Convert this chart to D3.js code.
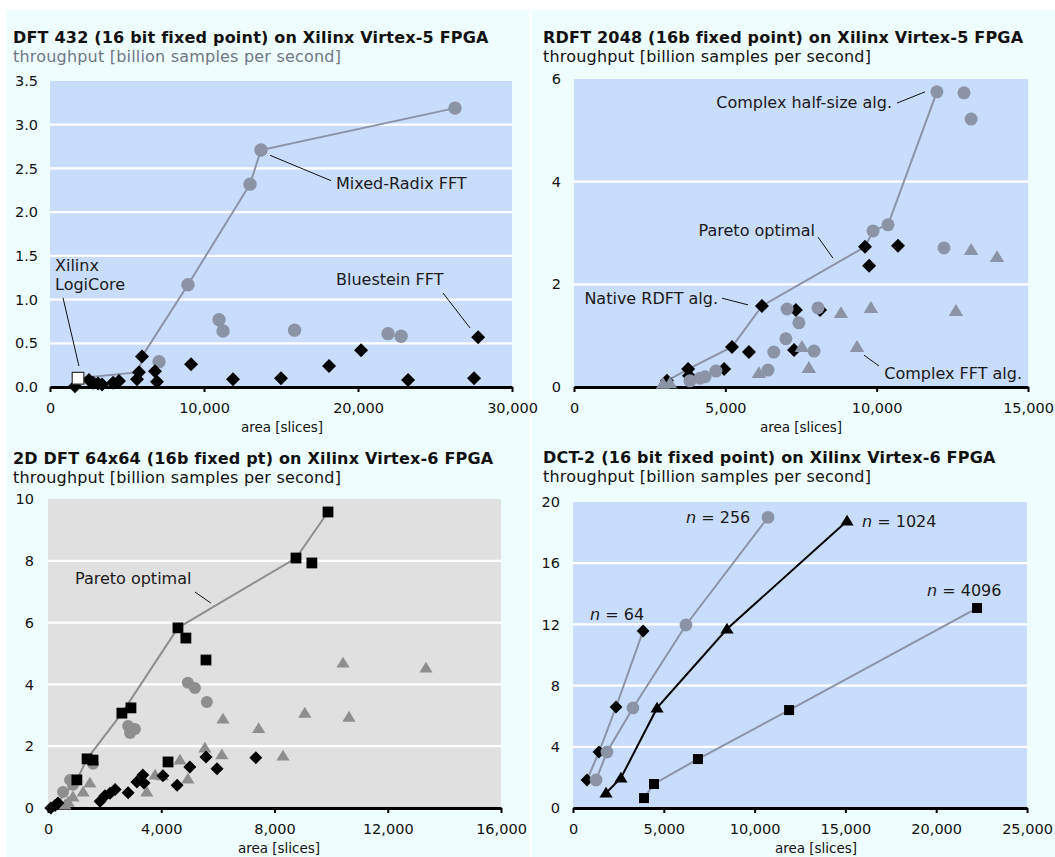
<!DOCTYPE html>
<html>
<head>
<meta charset="utf-8">
<script src="https://cdn.jsdelivr.net/npm/d3@7"></script>
<style>
  body { margin: 0; background: #ffffff; }
  svg { display: block; font-family: "DejaVu Sans", Verdana, sans-serif; }
</style>
</head>
<body>
<svg id="chart" width="1055" height="857"></svg>
<script>
// ---------- DFT 432 on Virtex-5: [area (slices), throughput (GS/s)] ----------
const dftMixedRadix = [[26300,3.19],[13700,2.71],[12990,2.32],[8960,1.17],[10975,0.77],[11235,0.64],
  [15880,0.65],[21950,0.61],[22800,0.58],[7080,0.29]];
const dftBluestein = [[1620,0.01],[2530,0.08],[2800,0.05],[3120,0.04],[3380,0.03],[4100,0.05],[4480,0.07],
  [5650,0.09],[5780,0.17],[5975,0.35],[6820,0.18],[6950,0.06],[9160,0.26],[11885,0.09],[15000,0.10],
  [18120,0.24],[20200,0.42],[23250,0.08],[27535,0.10],[27800,0.57]];
const dftLogiCore = [[1820,0.10]];
const dftPareto = [[1820,0.10],[5780,0.17],[5975,0.35],[8960,1.17],[12990,2.32],[13700,2.71],[26300,3.19]];
const dftXTicks = [0,10000,20000,30000];
const dftYTicks = [0,0.5,1.0,1.5,2.0,2.5,3.0,3.5];

// ---------- RDFT 2048 on Virtex-5 ----------
const rdftHalfSize = [[11990,5.75],[12885,5.73],[13120,5.22],[10375,3.16],[9880,3.04],[12225,2.71],
  [8060,1.54],[7040,1.52],[7430,1.25],[7000,0.94],[6600,0.68],[7930,0.70],[6410,0.33],[4690,0.31],
  [4330,0.20],[4160,0.17],[3830,0.12]];
const rdftNative = [[6210,1.58],[7330,1.50],[8130,1.50],[5220,0.78],[5780,0.68],[7270,0.72],[3770,0.35],
  [4960,0.35],[3800,0.22],[3070,0.12],[9615,2.73],[10705,2.75],[9750,2.36]];
const rdftComplexFFT = [[13120,2.67],[13975,2.53],[9810,1.54],[12620,1.48],[8820,1.44],[7530,0.78],
  [9350,0.78],[7760,0.37],[6110,0.27],[2940,0.06],[3170,0.07]];
const rdftPareto = [[3070,0.12],[3770,0.35],[5220,0.78],[6210,1.58],[9615,2.73],[9880,3.04],[10375,3.16],[11990,5.75]];
const rdftXTicks = [0,5000,10000,15000];
const rdftYTicks = [0,2,4,6];

// ---------- 2D DFT 64x64 on Virtex-6 ----------
const dft2dSquares = [[4590,5.83],[4870,5.50],[5580,4.79],[2610,3.07],[2930,3.24],[1380,1.59],[1590,1.55],
  [1020,0.91],[4240,1.49],[9890,9.58],[8760,8.09],[9320,7.93]];
const dft2dCircles = [[4940,4.05],[5190,3.88],[5610,3.43],[2830,2.65],[2900,2.43],[3070,2.56],[1590,1.43],
  [780,0.91],[530,0.52],[880,0.75]];
const dft2dTriangles = [[10420,4.69],[13350,4.53],[9070,3.07],[10630,2.94],[8300,1.68],[7440,2.57],[6180,2.88],
  [5540,1.94],[6140,1.72],[4660,1.55],[3780,1.07],[4030,1.04],[4940,0.94],[3490,0.52],[1480,0.81],
  [1240,0.52],[880,0.36],[710,0.19],[600,0.10]];
const dft2dDiamonds = [[5010,1.33],[5970,1.27],[5580,1.65],[7340,1.63],[4560,0.74],[3350,1.07],[3140,0.84],
  [3390,0.81],[4060,1.04],[2830,0.49],[2370,0.60],[2190,0.48],[2010,0.40],[1840,0.22],[350,0.16],
  [250,0.08],[100,0.0]];
const dft2dPareto = [[250,0.08],[1020,0.91],[1380,1.59],[2610,3.07],[4590,5.83],[8760,8.09],[9890,9.58]];
const dft2dXTicks = [0,4000,8000,12000,16000];
const dft2dYTicks = [0,2,4,6,8,10];

// ---------- DCT-2 on Virtex-6, one series per transform size ----------
const dctN64 = [[770,1.83],[1430,3.66],[2370,6.60],[3860,11.57]];
const dctN256 = [[1270,1.83],[1870,3.66],[3300,6.54],[6220,11.96],[10740,19.0]];
const dctN1024 = [[1820,0.98],[2640,1.96],[4630,6.54],[8480,11.70],[15090,18.76]];
const dctN4096 = [[3910,0.65],[4460,1.57],[6880,3.20],[11900,6.40],[22250,13.07]];
const dctXTicks = [0,5000,10000,15000,20000,25000];
const dctYTicks = [0,4,8,12,16,20];

// ---------- styling ----------
const PAGE_BG = "#eefefe";
const BLUE_BG = "#c8dcfb";
const GRAY_BG = "#e0e0e0";
const SLATE = "#8a94a6";
const GRAY = "#8e8e8e";
const NOTE_SIZE = 16;

const svg = d3.select("#chart");

// page background: four cyan tiles with thin white margins
svg.append("rect").attr("x",0).attr("y",0).attr("width",1055).attr("height",857).attr("fill","#ffffff");
[[6,10,523,424],[532,10,523,424],[6,434,523,423],[532,434,523,423]].forEach(([x0,y0,w,h]) =>
  svg.append("rect").attr("x",x0).attr("y",y0).attr("width",w).attr("height",h).attr("fill",PAGE_BG));

// marker path generators (centered at 0,0)
const shapes = {
  circle: s => `M${s},0A${s},${s} 0 1,1 ${-s},0A${s},${s} 0 1,1 ${s},0Z`,
  diamond: s => `M0,${-s}L${s},0L0,${s}L${-s},0Z`,
  square: s => `M${-s},${-s}H${s}V${s}H${-s}Z`,
  triangle: s => `M0,${-s*1.05}L${s*1.1},${s*0.75}L${-s*1.1},${s*0.75}Z`
};

function drawPanel(cfg) {
  const g = svg.append("g");
  const b = cfg.box;
  const x = d3.scaleLinear().domain(cfg.xDomain).range([b.left, b.right]);
  const y = d3.scaleLinear().domain(cfg.yDomain).range([b.bottom, b.top]);

  // titles
  g.append("text").attr("x", cfg.titlePos[0]).attr("y", cfg.titlePos[1]).attr("dy","0.35em")
    .attr("font-size", 16).attr("letter-spacing", 0.2).attr("font-weight","bold").attr("fill","#111").text(cfg.title);
  g.append("text").attr("x", cfg.titlePos[0]).attr("y", cfg.titlePos[1] + 19).attr("dy","0.35em")
    .attr("font-size", 16).attr("letter-spacing", 0.2).attr("fill", cfg.subtitleColor)
    .text("throughput [billion samples per second]");

  // plot background and horizontal gridlines
  g.append("rect").attr("x", b.left).attr("y", b.top)
    .attr("width", b.right - b.left).attr("height", b.bottom - b.top).attr("fill", cfg.plotBg);
  g.selectAll(".grid").data(cfg.yTicks.filter(t => t > cfg.yDomain[0] && t < cfg.yDomain[1]))
    .join("line").attr("x1", b.left).attr("x2", b.right)
    .attr("y1", d => y(d)).attr("y2", d => y(d)).attr("stroke","#ffffff").attr("stroke-width",2.2);

  // y tick labels
  const ya = g.append("g").attr("transform", `translate(${b.left},0)`)
    .call(d3.axisLeft(y).tickValues(cfg.yTicks).tickSize(0).tickPadding(cfg.yPad).tickFormat(cfg.yFormat));
  ya.select(".domain").remove();
  ya.selectAll("text").attr("font-size", 14.5).attr("font-family","DejaVu Sans, Verdana, sans-serif").attr("fill","#111");

  // connecting lines
  cfg.lines.forEach(L => {
    g.append("path").datum(L.data)
      .attr("d", d3.line().x(d => x(d[0])).y(d => y(d[1])))
      .attr("fill","none").attr("stroke", L.color).attr("stroke-width", L.width || 2);
  });

  // leader lines for annotations
  cfg.notes.forEach(n => {
    if (n.leader) {
      g.append("line").attr("x1", x(n.leader[0][0])).attr("y1", y(n.leader[0][1]))
        .attr("x2", x(n.leader[1][0])).attr("y2", y(n.leader[1][1]))
        .attr("stroke","#111").attr("stroke-width",1);
    }
  });

  // x axis on the zero line
  const xa = g.append("g").attr("transform", `translate(0,${y(0)})`)
    .call(d3.axisBottom(x).tickValues(cfg.xTicks).tickSize(5).tickSizeOuter(0).tickPadding(11)
      .tickFormat(d3.format(",")));
  xa.select(".domain").attr("stroke","#000").attr("stroke-width",3);
  xa.selectAll(".tick line").attr("stroke","#000").attr("stroke-width",2);
  xa.selectAll("text").attr("font-size", 14.5).attr("font-family","DejaVu Sans, Verdana, sans-serif").attr("fill","#111");

  g.append("text").attr("x", cfg.xLabelX).attr("y", y(0) + 40).attr("dy","0.35em")
    .attr("text-anchor","middle").attr("font-size", 13.5).attr("fill","#111").text("area [slices]");

  // markers
  cfg.series.forEach(S => {
    g.append("g").selectAll("path").data(S.data).join("path")
      .attr("transform", d => `translate(${x(d[0])},${y(d[1])})`)
      .attr("d", shapes[S.shape](S.size))
      .attr("fill", S.fill).attr("stroke", S.stroke || "none").attr("stroke-width", S.strokeWidth || 0);
  });

  // annotation text
  cfg.notes.forEach(n => {
    if (!n.text && !n.lines) return;
    const t = g.append("text").attr("x", x(n.at[0])).attr("y", y(n.at[1])).attr("dy","0.35em")
      .attr("font-size", NOTE_SIZE).attr("fill","#1a1a1a").attr("text-anchor", n.anchor || "start");
    if (n.italicN) {
      t.append("tspan").attr("font-style","italic").text("n");
      t.append("tspan").text(" = " + n.text);
    } else if (n.lines) {
      n.lines.forEach((s, i) => t.append("tspan").attr("x", x(n.at[0])).attr("dy", i === 0 ? "0.35em" : "1.2em").text(s));
    } else {
      t.text(n.text);
    }
  });
}

drawPanel({
  title: "DFT 432 (16 bit fixed point) on Xilinx Virtex-5 FPGA",
  titlePos: [13, 37], subtitleColor: "#6e7686",
  box: {left: 50, right: 512, top: 81, bottom: 387},
  xDomain: [0, 30000], yDomain: [0, 3.5],
  xTicks: dftXTicks, yTicks: dftYTicks, yFormat: d3.format(".1f"), yPad: 12,
  plotBg: BLUE_BG, xLabelX: 282,
  lines: [{data: dftPareto, color: SLATE}],
  series: [
    {data: dftMixedRadix, shape: "circle", size: 6.7, fill: SLATE},
    {data: dftBluestein, shape: "diamond", size: 7, fill: "#000"},
    {data: dftLogiCore, shape: "square", size: 5.8, fill: "#ffffff", stroke: "#333", strokeWidth: 1.2}
  ],
  notes: [
    {lines: ["Xilinx", "LogiCore"], at: [325, 1.395]},
    {leader: [[845, 1.02], [1880, 0.24]], at: [0, 0]},
    {text: "Mixed-Radix FFT", at: [18570, 2.33], leader: [[14290, 2.65], [18250, 2.36]]},
    {text: "Bluestein FFT", at: [18570, 1.235], leader: [[25520, 1.075], [27275, 0.675]]}
  ]
});

drawPanel({
  title: "RDFT 2048 (16b fixed point) on Xilinx Virtex-5 FPGA",
  titlePos: [543, 37], subtitleColor: "#111",
  box: {left: 574, right: 1028, top: 79, bottom: 387},
  xDomain: [0, 15000], yDomain: [0, 6],
  xTicks: rdftXTicks, yTicks: rdftYTicks, yFormat: d3.format("d"), yPad: 13,
  plotBg: BLUE_BG, xLabelX: 801,
  lines: [{data: rdftPareto, color: SLATE}],
  series: [
    {data: rdftNative, shape: "diamond", size: 7, fill: "#000"},
    {data: rdftHalfSize, shape: "circle", size: 6.5, fill: SLATE},
    {data: rdftComplexFFT, shape: "triangle", size: 6.6, fill: SLATE}
  ],
  notes: [
    {text: "Complex half-size alg.", anchor: "end", at: [10507, 5.55], leader: [[10672, 5.53], [11597, 5.75]]},
    {text: "Pareto optimal", anchor: "end", at: [7963, 3.06], leader: [[8062, 2.92], [8557, 2.51]]},
    {text: "Native RDFT alg.", anchor: "end", at: [4758, 1.73], leader: [[4890, 1.73], [5749, 1.60]]},
    {text: "Complex FFT alg.", anchor: "end", at: [14802, 0.27], leader: [[9582, 0.62], [10077, 0.41]]}
  ]
});

drawPanel({
  title: "2D DFT 64x64 (16b fixed pt) on Xilinx Virtex-6 FPGA",
  titlePos: [13, 458], subtitleColor: "#111",
  box: {left: 48, right: 501, top: 499, bottom: 808},
  xDomain: [0, 16000], yDomain: [0, 10],
  xTicks: dft2dXTicks, yTicks: dft2dYTicks, yFormat: d3.format("d"), yPad: 14,
  plotBg: GRAY_BG, xLabelX: 279,
  lines: [{data: dft2dPareto, color: GRAY}],
  series: [
    {data: dft2dCircles, shape: "circle", size: 6, fill: GRAY},
    {data: dft2dTriangles, shape: "triangle", size: 6, fill: GRAY},
    {data: dft2dDiamonds, shape: "diamond", size: 6.5, fill: "#000"},
    {data: dft2dSquares, shape: "square", size: 5.4, fill: "#000"}
  ],
  notes: [
    {text: "Pareto optimal", at: [953, 7.44], leader: [[5190, 6.99], [5755, 6.63]]}
  ]
});

drawPanel({
  title: "DCT-2 (16 bit fixed point) on Xilinx Virtex-6 FPGA",
  titlePos: [543, 457], subtitleColor: "#111",
  box: {left: 573, right: 1027, top: 502, bottom: 808},
  xDomain: [0, 25000], yDomain: [0, 20],
  xTicks: dctXTicks, yTicks: dctYTicks, yFormat: d3.format("d"), yPad: 13,
  plotBg: BLUE_BG, xLabelX: 816,
  lines: [
    {data: dctN64, color: SLATE}, {data: dctN256, color: SLATE},
    {data: dctN1024, color: "#000"}, {data: dctN4096, color: SLATE}
  ],
  series: [
    {data: dctN64, shape: "diamond", size: 6.4, fill: "#000"},
    {data: dctN256, shape: "circle", size: 6.4, fill: SLATE},
    {data: dctN1024, shape: "triangle", size: 6, fill: "#000"},
    {data: dctN4096, shape: "square", size: 5, fill: "#000"}
  ],
  notes: [
    {text: "256", italicN: true, at: [6223, 19.02]},
    {text: "64", italicN: true, at: [936, 12.68]},
    {text: "1024", italicN: true, at: [15915, 18.76]},
    {text: "4096", italicN: true, at: [19495, 14.25]}
  ]
});
</script>
</body>
</html>
